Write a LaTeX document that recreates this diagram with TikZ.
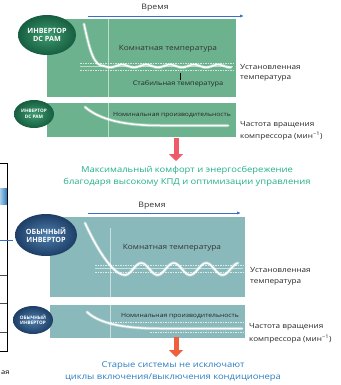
\documentclass[tikz,border=0pt]{standalone}
\usepackage{fontspec}
\setmainfont{Open Sans}
\newfontfamily\widefont[FakeStretch=1.15]{Open Sans}
\usetikzlibrary{shapes.geometric,arrows.meta}
\definecolor{pgreen}{HTML}{6DB28E}
\definecolor{bgreenin}{HTML}{3E9A70}
\definecolor{bgreenout}{HTML}{165E40}
\definecolor{pteal}{HTML}{8AB9BC}
\definecolor{bbluein}{HTML}{4E7FAE}
\definecolor{bblueout}{HTML}{1D3E66}
\definecolor{tgreen}{HTML}{22B089}
\definecolor{tblue}{HTML}{2B7DC0}
\definecolor{aredd}{HTML}{EE5A68}
\definecolor{aorange}{HTML}{F05F3C}
\definecolor{tarrow}{HTML}{3A6FC8}
\begin{document}
\begin{tikzpicture}[x=1pt,y=-1pt,
  panelbox/.style={draw=none, inner sep=0, outer sep=0, anchor=north west},
  badge/.style={ellipse, inner sep=0, text=white, align=center, font=\bfseries\fontsize{7.2}{8}\selectfont},
  sbadge/.style={ellipse, inner sep=0, text=white, align=center, font=\bfseries\fontsize{4.7}{5.4}\selectfont},
  curve/.style={white, line width=1.5pt, line cap=round},
  glow/.style={white, opacity=0.35, line width=3.2pt, line cap=round},
  guide/.style={white, opacity=0.55, line width=0.4pt},
  dashg/.style={white, opacity=0.7, line width=0.4pt, dash pattern=on 1.5pt off 1pt},
  lbl/.style={font=\widefont\fontsize{7.1}{8.5}\selectfont, anchor=west, text=black!85, inner sep=0},
  inl/.style={font=\widefont\fontsize{7.2}{8}\selectfont, text=black!80, inner sep=0},
  sinl/.style={font=\widefont\fontsize{5.9}{6.5}\selectfont, text=black!85, inner sep=0},
  stabl/.style={font=\widefont\fontsize{6.4}{7}\selectfont, text=black!85, inner sep=0},
  timel/.style={font=\widefont\fontsize{7.6}{9}\selectfont, text=black!80, inner sep=0},
  tarr/.style={-{Latex[length=4pt,width=3.2pt]}, tarrow, line width=0.8pt},
  bigarrow/.style={-{Triangle[length=7pt,width=14pt]}, line width=5pt},
  msg/.style={font=\widefont\fontsize{8.2}{12}\selectfont, align=center, inner sep=0}
]
\useasboundingbox (0,0) rectangle (340,385);

% ---------- left fragment ----------
\coordinate (fa) at (-2,163);
\coordinate (fb) at (7,351);
\shade[left color=tblue!40, right color=tblue] (0,188) rectangle (7,204);
\draw[black, line width=0.6pt] (fa) rectangle (fb);
\draw[tarrow, line width=1pt, -] (0,240) -- (13,240);
\draw[black!70, line width=0.4pt] (0,275) -- (7,275) (0,303) -- (7,303) (0,332) -- (7,332);
\node[font=\widefont\fontsize{6.5}{7}\selectfont, anchor=west, inner sep=0] (frag) at (1,373) {ая};

% ---------- top: inverter DC PAM ----------
\coordinate (t1s) at (88,16);
\coordinate (t1e) at (244,16);
\draw[tarr] (t1s) -- (t1e);
\node[timel] (time1) at (155,8) {Время};

\node[panelbox, fill=pgreen, minimum width=189pt, minimum height=78pt] (p1) at (47,19) {};
\draw[guide] (108,19) -- (108,97);
\draw[dashg] (80,63) -- (233,63);
\draw[dashg] (80,70) -- (233,70);
\draw[guide] (80,66.5) -- (233,66.5);
\draw[glow] (84,24) .. controls (90,52) and (94,66) .. (104,66)
   -- plot[domain=104:231,samples=120] (\x,{66+1.4*sin((\x-104)*15)});
\draw[curve] (84,24) .. controls (90,52) and (94,66) .. (104,66)
   -- plot[domain=104:231,samples=120] (\x,{66+1.4*sin((\x-104)*15)});
\node[inl] (room1) at (168,49) {Комнатная температура};
\coordinate (tick1a) at (180,73);
\coordinate (tick1b) at (180,80);
\draw[black, line width=0.8pt] (tick1a) -- (tick1b);
\node[stabl] (stab) at (178,84) {Стабильная температура};
\node[badge, minimum width=58pt, minimum height=40pt, inner color=bgreenin, outer color=bgreenout] (b1) at (47,35) {ИНВЕРТОР\\DC PAM};
\node[lbl] (set1a) at (240,67) {Установленная};
\node[lbl] (set1b) at (240,78) {температура};

\node[panelbox, fill=pgreen, minimum width=189pt, minimum height=34pt] (p2) at (47,103) {};
\draw[guide] (108,103) -- (108,137);
\draw[glow] (85,107) .. controls (100,120) and (125,125.5) .. (160,125.5) -- (228,125.5);
\draw[curve] (85,107) .. controls (100,120) and (125,125.5) .. (160,125.5) -- (228,125.5);
\node[sinl] (nom1) at (172,115) {Номинальная производительность};
\node[sbadge, minimum width=40pt, minimum height=28pt, inner color=bgreenin, outer color=bgreenout] (b2) at (34,114) {ИНВЕРТОР\\DC PAM};
\node[lbl] (fr1a) at (240,125) {Частота вращения};
\node[lbl] (fr1b) at (240,136) {компрессора (мин\textsuperscript{−1})};

\coordinate (a1s) at (176,138);
\coordinate (a1e) at (176,161);
\draw[bigarrow, aredd] (a1s) -- (a1e);
\node[msg, text=tgreen] (msg1) at (187,176) {Максимальный комфорт и энергосбережение\\благодаря высокому КПД и оптимизации управления};

% ---------- bottom: ordinary inverter ----------
\coordinate (t2s) at (88,213);
\coordinate (t2e) at (241,213);
\draw[tarr] (t2s) -- (t2e);
\node[timel] (time2) at (152,206) {Время};

\node[panelbox, fill=pteal, minimum width=195pt, minimum height=80pt] (p3) at (50,217) {};
\draw[guide] (110,228) -- (110,297);
\draw[dashg] (95,265) -- (243,265);
\draw[dashg] (95,272) -- (243,272);
\draw[guide] (95,268) -- (243,268);
\draw[glow] (85,223) .. controls (95,245) and (112,275) .. (125,275)
   -- plot[domain=125:238,samples=150] (\x,{269+6*cos((\x-125)*11.08)});
\draw[curve] (85,223) .. controls (95,245) and (112,275) .. (125,275)
   -- plot[domain=125:238,samples=150] (\x,{269+6*cos((\x-125)*11.08)});
\node[inl] (room2) at (172,248) {Комнатная температура};
\node[badge, minimum width=62pt, minimum height=42pt, inner color=bbluein, outer color=bblueout] (b3) at (46,235) {ОБЫЧНЫЙ\\ИНВЕРТОР};
\node[lbl] (set2a) at (250,270) {Установленная};
\node[lbl] (set2b) at (250,282) {температура};

\node[panelbox, fill=pteal, minimum width=195pt, minimum height=33pt] (p4) at (50,305) {};
\draw[guide] (110,305) -- (110,338);
\draw[dashg] (110,322) -- (243,322);
\draw[dashg] (150,332) -- (243,332);
\draw[glow] (87,312) .. controls (100,324) and (125,328.5) .. (160,328.5) -- (242,328.5);
\draw[curve] (87,312) .. controls (100,324) and (125,328.5) .. (160,328.5) -- (242,328.5);
\node[sinl] (nom2) at (180,316) {Номинальная производительность};
\node[sbadge, minimum width=40pt, minimum height=28pt, inner color=bbluein, outer color=bblueout] (b4) at (33,320) {ОБЫЧНЫЙ\\ИНВЕРТОР};
\node[lbl] (fr2a) at (249,327) {Частота вращения};
\node[lbl] (fr2b) at (249,339) {компрессора (мин\textsuperscript{−1})};

\coordinate (a2s) at (176,337);
\coordinate (a2e) at (176,357);
\draw[bigarrow, aorange] (a2s) -- (a2e);
\node[msg, text=tblue] (msg2) at (173,372) {Старые системы не исключают\\циклы включения/выключения кондиционера};
\end{tikzpicture}
\end{document}
